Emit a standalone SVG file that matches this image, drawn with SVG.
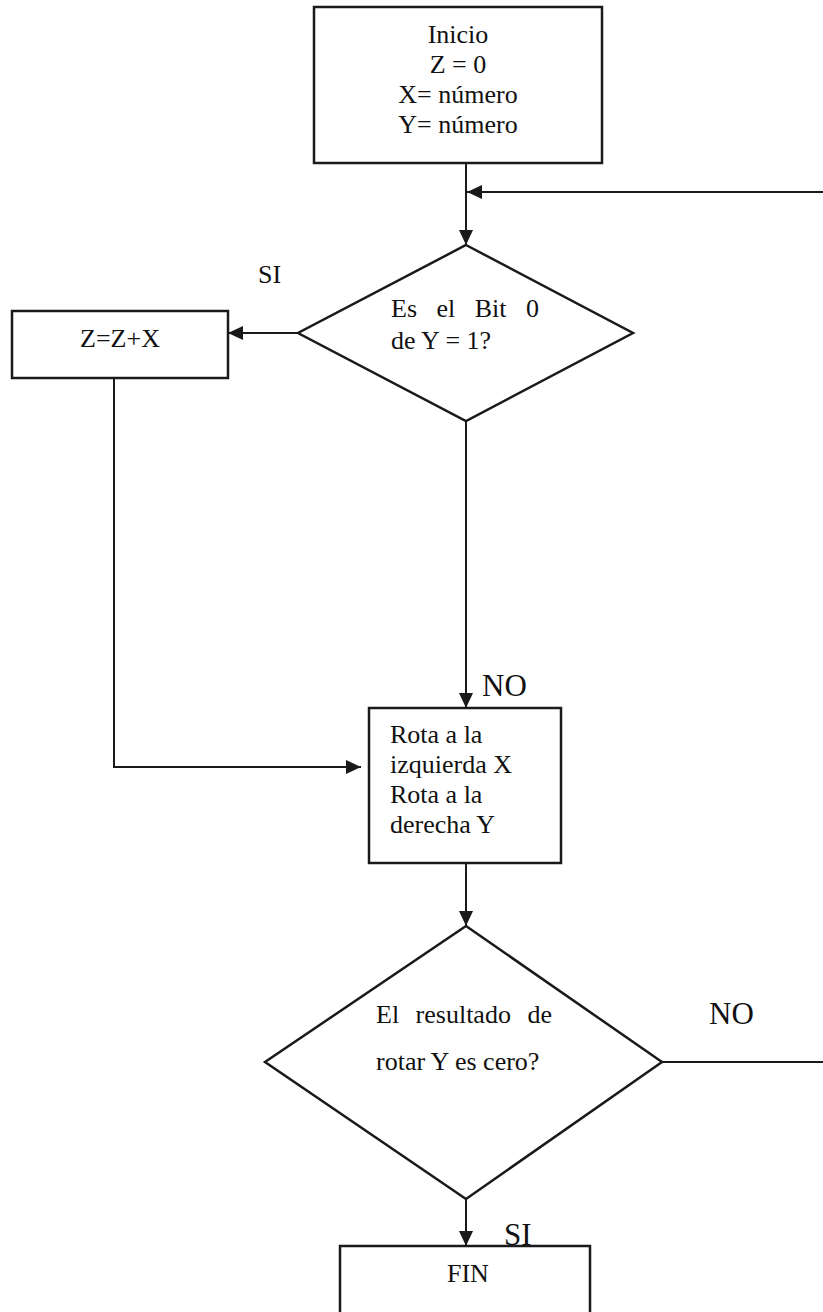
<svg xmlns="http://www.w3.org/2000/svg" width="823" height="1312" viewBox="0 0 823 1312">
<style>
.box{fill:#fff;stroke:#1a1a1a;stroke-width:2.5}
.ln{fill:none;stroke:#1a1a1a;stroke-width:2}
.t{font-family:"Liberation Serif","Times New Roman",serif;font-size:26px;fill:#111}
.c{text-anchor:middle}
.lbl{font-family:"Liberation Serif","Times New Roman",serif;font-size:31px;fill:#111}
</style>
<defs>
<marker id="ah" viewBox="0 0 15 14" refX="15" refY="7" markerWidth="15" markerHeight="14" orient="auto" markerUnits="userSpaceOnUse">
<path d="M0,0 L15,7 L0,14 z" fill="#1a1a1a"/>
</marker>
</defs>
<rect width="823" height="1312" fill="#fff"/>
<g id="connectors">
<line class="ln" x1="466" y1="163" x2="466" y2="245" marker-end="url(#ah)"/>
<line class="ln" x1="823" y1="192" x2="467" y2="192" marker-end="url(#ah)"/>
<line class="ln" x1="298" y1="333" x2="228" y2="333" marker-end="url(#ah)"/>
<line class="ln" x1="466" y1="421" x2="466" y2="708" marker-end="url(#ah)"/>
<polyline class="ln" points="114,378 114,767 361,767" marker-end="url(#ah)"/>
<line class="ln" x1="466" y1="863" x2="466" y2="926" marker-end="url(#ah)"/>
<line class="ln" x1="662" y1="1062" x2="823" y2="1062"/>
<line class="ln" x1="466" y1="1199" x2="466" y2="1246" marker-end="url(#ah)"/>
</g>
<g id="inicio">
<rect class="box" x="314" y="7" width="288" height="156"/>
<text class="t c" x="458" y="43">Inicio</text>
<text class="t c" x="458" y="73">Z = 0</text>
<text class="t c" x="458" y="103">X= número</text>
<text class="t c" x="458" y="133">Y= número</text>
</g>
<g id="decision1">
<polygon class="box" points="466,245 633,333 466,421 298,333"/>
<text class="t" x="391" y="317" word-spacing="13">Es el Bit 0</text>
<text class="t" x="391" y="349">de Y = 1?</text>
</g>
<g id="sumar">
<rect class="box" x="12" y="311" width="216" height="67"/>
<text class="t c" x="120" y="347">Z=Z+X</text>
</g>
<g id="rotar">
<rect class="box" x="369" y="708" width="192" height="155"/>
<text class="t" x="390" y="743">Rota a la</text>
<text class="t" x="390" y="773">izquierda X</text>
<text class="t" x="390" y="803">Rota a la</text>
<text class="t" x="390" y="833">derecha Y</text>
</g>
<g id="decision2">
<polygon class="box" points="466,926 662,1062 466,1199 265,1062"/>
<text class="t" x="376" y="1023" word-spacing="10">El resultado de</text>
<text class="t" x="376" y="1070">rotar Y es cero?</text>
</g>
<g id="fin">
<rect class="box" x="340" y="1246" width="250" height="80"/>
<text class="t" x="447" y="1282" font-size="25">FIN</text>
</g>
<g id="labels">
<text class="t" x="258" y="283">SI</text>
<text class="lbl" x="482" y="696">NO</text>
<text class="lbl" x="709" y="1024">NO</text>
<text class="lbl" x="504" y="1245" font-size="30">SI</text>
</g>
</svg>
